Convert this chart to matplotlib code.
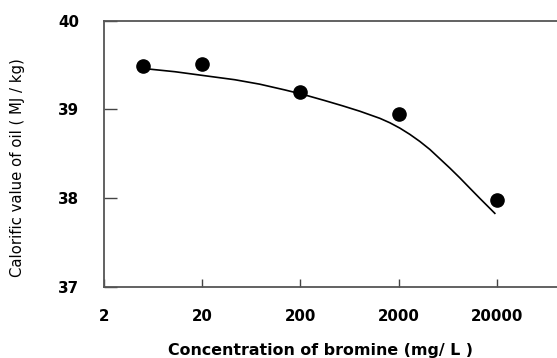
import matplotlib
matplotlib.use("Agg")
import matplotlib.pyplot as plt
from matplotlib.ticker import NullLocator

plt.rcParams['font.family'] = ['DejaVu Sans']

# measured calorific value of the oil vs. bromine concentration
conc = [5, 20, 200, 2000, 20000]
cal_value = [39.49, 39.51, 39.20, 38.95, 37.98]

# trend curve through the measurements
trend_conc = [5.2, 10.6, 21.3, 43, 77, 139, 212, 355, 542, 807, 1290, 1630,
              2060, 2600, 3290, 4160, 5260, 6650, 8400, 10600, 13400, 19100]
trend_val = [39.46, 39.425, 39.38, 39.335, 39.285, 39.22, 39.17, 39.10, 39.04,
             38.98, 38.90, 38.85, 38.79, 38.72, 38.64, 38.55, 38.445, 38.34,
             38.23, 38.115, 38.00, 37.83]

x_ticks = [2, 20, 200, 2000, 20000]
x_labels = ["2", "20", "200", "2000", "20000"]
y_ticks = [37, 38, 39, 40]

fig = plt.figure(figsize=(5.57, 3.58), dpi=100)
ax = fig.add_axes([0.1867, 0.1983, 0.8815, 0.7439])

ax.plot(trend_conc, trend_val, color="black", lw=1.2, zorder=2)
ax.plot(conc, cal_value, "o", color="black", ms=9.5, zorder=3)

ax.set_xscale("log")
ax.set_xlim(2, 200000)
ax.set_ylim(37, 40)
ax.set_xticks(x_ticks)
ax.set_xticklabels(x_labels)
ax.xaxis.set_minor_locator(NullLocator())
ax.set_yticks(y_ticks)
ax.set_yticklabels([str(v) for v in y_ticks])

ax.tick_params(axis="x", direction="in", length=6, width=1, color="#444444",
               pad=16, labelsize=10.8)
ax.tick_params(axis="y", direction="in", length=9, width=1, color="#444444",
               pad=18, labelsize=10.8)
for lab in ax.get_xticklabels() + ax.get_yticklabels():
    lab.set_fontweight("bold")

for side in ["left", "bottom", "top", "right"]:
    ax.spines[side].set_color("#555555")
    ax.spines[side].set_linewidth(1.3)

ax.set_xlabel("Concentration of bromine (mg/ L )", fontsize=11.4, fontweight="bold")
ax.set_ylabel("Calorific value of oil ( MJ / kg)", fontsize=10.7)
ax.xaxis.set_label_coords(0.44, -0.21)
ax.yaxis.set_label_coords(-0.161, 0.45)

fig.savefig("out.png", dpi=100)
